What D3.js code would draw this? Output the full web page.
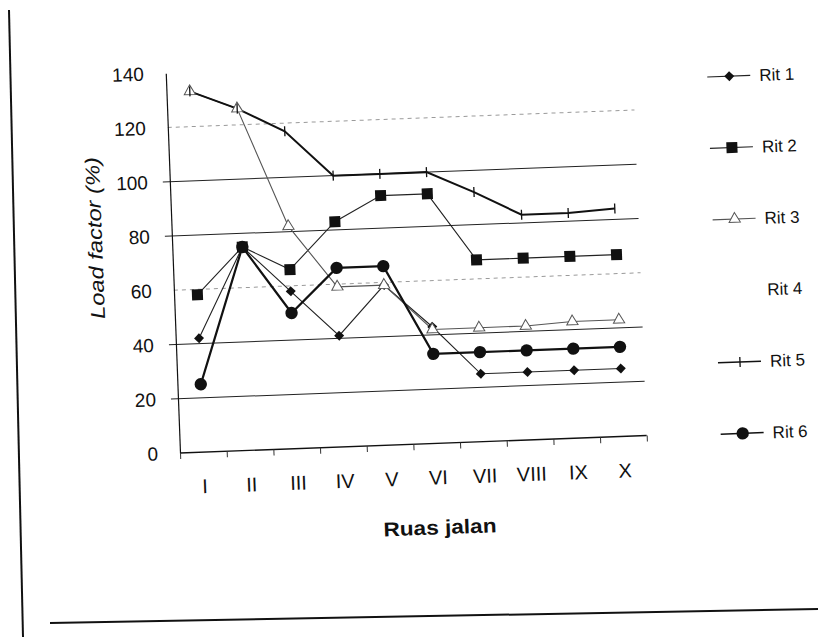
<!DOCTYPE html>
<html>
<head>
<meta charset="utf-8">
<script src="https://cdn.jsdelivr.net/npm/d3@7"></script>
<style>
  html, body { margin: 0; padding: 0; background: #fff; }
  svg { display: block; }
  text { font-family: "Liberation Sans", Arial, sans-serif; fill: #111; }
</style>
</head>
<body>
<svg id="chart" width="818" height="637"></svg>
<script>
// ---- data ----
const categories = ["I", "II", "III", "IV", "V", "VI", "VII", "VIII", "IX", "X"];
const rit1 = [42, 75, 58, 41, 59, 43, 25, 25, 25, 25];
const rit2 = [58, 75, 66, 83, 92, 92, 67, 67, 67, 67];
const rit3 = [133, 126, 82, 59, 59, 42, 42, 42, 43, 43];
const rit4 = [];
const rit5 = [133, 126, 117, 100, 100, 100, 92, 83, 83, 84];
const rit6 = [25, 75, 50, 66, 66, 33, 33, 33, 33, 33];
const yTicks = [0, 20, 40, 60, 80, 100, 120, 140];
const seriesNames = ["Rit 1", "Rit 2", "Rit 3", "Rit 4", "Rit 5", "Rit 6"];

// ---- layout ----
const svg = d3.select("#chart");
const W = 467, H = 380;
const angle = -2.15;

// scan frame lines
svg.append("line").attr("x1", 9).attr("y1", 10).attr("x2", 23).attr("y2", 637)
  .attr("stroke", "#111").attr("stroke-width", 2);
svg.append("line").attr("x1", 50).attr("y1", 623).attr("x2", 818).attr("y2", 609)
  .attr("stroke", "#111").attr("stroke-width", 2);

const g = svg.append("g").attr("transform", `translate(180,453) rotate(${angle})`);

const x = d3.scalePoint().domain(categories).range([0, W]).padding(0.5);
const xb = d3.scaleLinear().domain([0, categories.length]).range([0, W]);
const y = d3.scaleLinear().domain([0, 140]).range([0, -H]);

// gridlines
const faded = new Set([60, 120]);
yTicks.filter(v => v > 0 && v < 140).forEach(v => {
  g.append("line")
    .attr("x1", faded.has(v) ? 0 : -7).attr("x2", W)
    .attr("y1", y(v)).attr("y2", y(v))
    .attr("stroke", faded.has(v) ? "#9a9a9a" : "#222")
    .attr("stroke-width", 1)
    .attr("stroke-dasharray", faded.has(v) ? "4,4" : null);
});

// y axis
const yAxis = g.append("g").call(d3.axisLeft(y).tickValues(yTicks).tickSize(0).tickPadding(22));
yAxis.select(".domain").attr("stroke", "#111").attr("stroke-width", 1.2);
yAxis.selectAll("text").style("font-size", "19px").style("font-family", "Liberation Sans, Arial, sans-serif").attr("fill", "#111");

// x axis (boundary ticks)
const xTickAxis = g.append("g").call(d3.axisBottom(xb).ticks(10).tickSize(6).tickFormat(""));
xTickAxis.select(".domain").attr("d", `M0,0H${W}`).attr("stroke", "#111").attr("stroke-width", 1.4);
xTickAxis.selectAll(".tick line").attr("stroke", "#333");

const xLab = g.append("g").call(d3.axisBottom(x).tickSize(0).tickPadding(27));
xLab.select(".domain").remove();
xLab.selectAll("text").style("font-size", "20px").style("font-family", "Liberation Sans, Arial, sans-serif").attr("fill", "#111");

// axis titles
g.append("text")
  .attr("transform", "translate(-77,-218) rotate(-90)")
  .attr("text-anchor", "middle").attr("dy", "0.35em")
  .attr("textLength", 162).attr("lengthAdjust", "spacingAndGlyphs")
  .style("font-size", "20px").style("font-style", "italic")
  .text("Load factor (%)");
g.append("text")
  .attr("x", 257).attr("y", 84).attr("dy", "0.35em")
  .attr("text-anchor", "middle")
  .attr("textLength", 113).attr("lengthAdjust", "spacingAndGlyphs")
  .style("font-size", "20px").style("font-weight", "bold")
  .text("Ruas jalan");

// ---- series ----
const line = d3.line().x((d, i) => x(categories[i])).y(d => y(d));

function drawMarker(sel, type) {
  if (type === "diamond") {
    sel.append("path").attr("d", "M0,-5L5,0L0,5L-5,0Z").attr("fill", "#111");
  } else if (type === "square") {
    sel.append("rect").attr("x", -5.5).attr("y", -5.5).attr("width", 11).attr("height", 11).attr("fill", "#111");
  } else if (type === "triangle") {
    sel.append("path").attr("d", d3.symbol(d3.symbolTriangle, 55)()).attr("fill", "#fff")
      .attr("stroke", "#555").attr("stroke-width", 1);
  } else if (type === "plus") {
    sel.append("line").attr("x1", 0).attr("x2", 0).attr("y1", -5).attr("y2", 5).attr("stroke", "#111").attr("stroke-width", 1.3);
  } else if (type === "circle") {
    sel.append("circle").attr("r", 6.2).attr("fill", "#111");
  }
}

const series = [
  { name: "Rit 1", values: rit1, marker: "diamond", width: 1.1, color: "#222" },
  { name: "Rit 2", values: rit2, marker: "square", width: 1.1, color: "#222" },
  { name: "Rit 3", values: rit3, marker: "triangle", width: 1.1, color: "#555" },
  { name: "Rit 4", values: rit4, marker: null, width: 0, color: "none" },
  { name: "Rit 5", values: rit5, marker: "plus", width: 2, color: "#111" },
  { name: "Rit 6", values: rit6, marker: "circle", width: 2.2, color: "#111" }
];

series.forEach(s => {
  if (!s.values.length) return;
  g.append("path").datum(s.values).attr("d", line)
    .attr("fill", "none").attr("stroke", s.color).attr("stroke-width", s.width);
});
series.forEach(s => {
  s.values.forEach((v, i) => {
    const m = g.append("g").attr("transform", `translate(${x(categories[i])},${y(v)})`);
    drawMarker(m, s.marker);
  });
});

// ---- legend ----
const legend = g.append("g");
series.forEach((s, i) => {
  const ly = -356 + i * 71.5;
  const row = legend.append("g").attr("transform", `translate(0,${ly})`);
  if (s.marker) {
    row.append("line").attr("x1", 541).attr("x2", 584).attr("y1", 0).attr("y2", 0)
      .attr("stroke", s.color).attr("stroke-width", Math.min(s.width, 1.5));
    const m = row.append("g").attr("transform", "translate(563,0)");
    drawMarker(m, s.marker);
  }
  row.append("text").attr("x", 593).attr("y", 0).attr("dy", "0.35em")
    .style("font-size", "17px").text(seriesNames[i]);
});
</script>
</body>
</html>
